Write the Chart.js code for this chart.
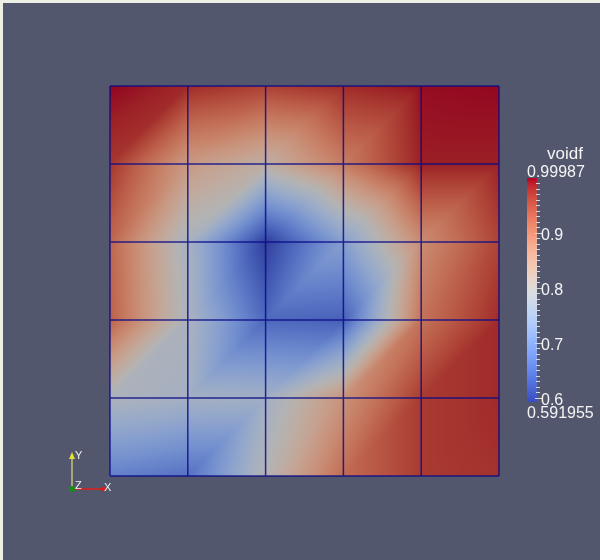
<!DOCTYPE html>
<html>
<head>
<meta charset="utf-8">
<script src="https://cdn.jsdelivr.net/npm/chart.js@4.4.1/dist/chart.umd.min.js"></script>
<style>
  html, body { margin: 0; padding: 0; background: #eef0e6; }
  #wrap { position: absolute; left: 0; top: 0; width: 600px; height: 560px; }
</style>
</head>
<body>
<div id="wrap"><canvas id="c" width="600" height="560"></canvas></div>
<script>
// Mesh node coordinates (5 x 5 quad cells, 6 x 6 nodes)
const xNodes = [0, 1, 2, 3, 4, 5];
const yNodes = [0, 1, 2, 3, 4, 5];

// voidf at the nodes, one row per y level, bottom row first
const voidfY0 = [0.674, 0.653, 0.796, 0.918, 0.967, 0.975];
const voidfY1 = [0.784, 0.770, 0.765, 0.869, 0.967, 0.980];
const voidfY2 = [0.931, 0.780, 0.641, 0.633, 0.910, 0.980];
const voidfY3 = [0.926, 0.776, 0.591955, 0.723, 0.878, 0.959];
const voidfY4 = [0.972, 0.857, 0.816, 0.898, 0.988, 0.988];
const voidfY5 = [0.99987, 0.982, 0.962, 0.980, 0.996, 0.998];

// Colour legend
const legendTitle = 'voidf';
const legendTicks = [0.6, 0.7, 0.8, 0.9];

const field = [voidfY0, voidfY1, voidfY2, voidfY3, voidfY4, voidfY5];
const allValues = field.flat();
const vMin = Math.min(...allValues);
const vMax = Math.max(...allValues);

// Cool-to-warm diverging colour map control points
const coolWarm = [
  [59,76,192],[68,90,204],[77,104,215],[87,117,225],[98,130,234],[108,142,241],
  [119,154,247],[130,165,251],[141,176,254],[152,185,255],[163,194,255],[174,201,253],
  [184,208,249],[194,213,244],[204,217,238],[213,219,230],[221,221,221],[229,216,209],
  [236,211,197],[241,204,185],[245,196,173],[247,187,160],[247,177,148],[247,166,135],
  [244,154,123],[241,141,111],[236,127,99],[229,112,88],[222,96,77],[213,80,66],
  [203,62,56],[192,40,47],[180,4,38]
];
function mapColor(v) {
  let t = (v - vMin) / (vMax - vMin);
  t = Math.max(0, Math.min(1, t));
  const f = t * (coolWarm.length - 1);
  const k = Math.min(coolWarm.length - 2, Math.floor(f));
  const a = f - k;
  const c0 = coolWarm[k], c1 = coolWarm[k + 1];
  return [c0[0] + (c1[0] - c0[0]) * a, c0[1] + (c1[1] - c0[1]) * a, c0[2] + (c1[2] - c0[2]) * a];
}

// Linear interpolation on the two triangles of each quad (split along BL-TR)
function fieldAt(xv, yv) {
  const nx = xNodes.length - 1, ny = yNodes.length - 1;
  let i = 0; while (i < nx - 1 && xv > xNodes[i + 1]) i++;
  let j = 0; while (j < ny - 1 && yv > yNodes[j + 1]) j++;
  const u = Math.max(0, Math.min(1, (xv - xNodes[i]) / (xNodes[i + 1] - xNodes[i])));
  const w = Math.max(0, Math.min(1, (yv - yNodes[j]) / (yNodes[j + 1] - yNodes[j])));
  const bl = field[j][i], br = field[j][i + 1], tl = field[j + 1][i], tr = field[j + 1][i + 1];
  if (w <= u) return bl * (1 - u) + br * (u - w) + tr * w;
  return bl * (1 - w) + tl * (w - u) + tr * u;
}

const SHADE = 0.81;     // surface lighting factor
const BG = '#52576e';

const meshPlugin = {
  id: 'meshPlugin',
  beforeDraw(chart) {
    const ctx = chart.ctx;
    ctx.save();
    ctx.fillStyle = BG;
    ctx.fillRect(3, 3, chart.width - 3, chart.height - 3);
    ctx.restore();
  },
  beforeDatasetsDraw(chart) {
    const ctx = chart.ctx;
    const xs = chart.scales.x, ys = chart.scales.y;
    const dpr = chart.currentDevicePixelRatio || 1;
    const x0 = Math.round(xs.getPixelForValue(xNodes[0]));
    const x1 = Math.round(xs.getPixelForValue(xNodes[xNodes.length - 1]));
    const y0 = Math.round(ys.getPixelForValue(yNodes[yNodes.length - 1]));
    const y1 = Math.round(ys.getPixelForValue(yNodes[0]));
    const w = (x1 - x0) * dpr, h = (y1 - y0) * dpr;
    const img = ctx.createImageData(w, h);
    const d = img.data;
    for (let py = 0; py < h; py++) {
      const yv = ys.getValueForPixel(y0 + (py + 0.5) / dpr);
      for (let px = 0; px < w; px++) {
        const xv = xs.getValueForPixel(x0 + (px + 0.5) / dpr);
        const c = mapColor(fieldAt(xv, yv));
        const o = (py * w + px) * 4;
        d[o] = c[0] * SHADE; d[o + 1] = c[1] * SHADE; d[o + 2] = c[2] * SHADE; d[o + 3] = 255;
      }
    }
    ctx.putImageData(img, x0 * dpr, y0 * dpr);

    // cell edges
    ctx.save();
    ctx.strokeStyle = 'rgba(12,12,135,0.85)';
    ctx.lineWidth = 1.5;
    ctx.beginPath();
    xNodes.forEach(xn => {
      const x = xs.getPixelForValue(xn);
      ctx.moveTo(x, ys.getPixelForValue(yNodes[0]));
      ctx.lineTo(x, ys.getPixelForValue(yNodes[yNodes.length - 1]));
    });
    yNodes.forEach(yn => {
      const y = ys.getPixelForValue(yn);
      ctx.moveTo(xs.getPixelForValue(xNodes[0]), y);
      ctx.lineTo(xs.getPixelForValue(xNodes[xNodes.length - 1]), y);
    });
    ctx.stroke();
    ctx.restore();
  },
  afterDraw(chart) {
    const ctx = chart.ctx;
    ctx.save();
    // colour legend bar
    const barL = 527, barR = 537, barT = 178, barB = 402;
    const yOf = v => barT + (vMax - v) / (vMax - vMin) * (barB - barT);
    for (let y = barT; y < barB; y++) {
      const v = vMax - (y + 0.5 - barT) / (barB - barT) * (vMax - vMin);
      const c = mapColor(v);
      ctx.fillStyle = `rgb(${c[0] | 0},${c[1] | 0},${c[2] | 0})`;
      ctx.fillRect(barL, y, barR - barL, 1);
    }
    // minor and major ticks
    ctx.strokeStyle = '#d6d8de';
    ctx.lineWidth = 1;
    ctx.beginPath();
    for (let k = 60; k <= 99; k++) {
      const v = k / 100;
      const y = Math.round(yOf(v)) + 0.5;
      const major = k % 10 === 0;
      ctx.moveTo(barR - (major ? 2 : 1), y);
      ctx.lineTo(barR + (major ? 5 : 3), y);
    }
    ctx.stroke();

    ctx.fillStyle = '#f4f4f4';
    ctx.textAlign = 'left';
    ctx.font = '17px "Liberation Sans", Arial, sans-serif';
    ctx.textBaseline = 'alphabetic';
    ctx.fillText(legendTitle, 547, 159);
    ctx.font = '16px "Liberation Sans", Arial, sans-serif';
    ctx.fillText(String(vMax), 527, 177);
    ctx.textBaseline = 'middle';
    legendTicks.forEach(v => ctx.fillText(v.toFixed(1), 541, yOf(v) + 3));
    ctx.textBaseline = 'alphabetic';
    ctx.fillText(String(vMin), 527, 418);

    // orientation axes
    const ox = 72, oy = 489;
    ctx.lineWidth = 2;
    ctx.strokeStyle = '#a7a87a';
    ctx.beginPath(); ctx.moveTo(ox, oy); ctx.lineTo(ox, 458); ctx.stroke();
    ctx.fillStyle = '#e2e030';
    ctx.beginPath(); ctx.moveTo(ox, 452); ctx.lineTo(ox - 3, 459); ctx.lineTo(ox + 3, 459); ctx.closePath(); ctx.fill();
    ctx.strokeStyle = '#c02a2a';
    ctx.beginPath(); ctx.moveTo(ox, oy); ctx.lineTo(102, oy); ctx.stroke();
    ctx.fillStyle = '#d81c1c';
    ctx.beginPath(); ctx.moveTo(108, oy); ctx.lineTo(101, oy - 3); ctx.lineTo(101, oy + 3); ctx.closePath(); ctx.fill();
    ctx.fillStyle = '#1a8a1a';
    ctx.beginPath(); ctx.arc(ox, oy, 3, 0, Math.PI * 2); ctx.fill();
    ctx.fillStyle = '#f0f0f0';
    ctx.font = '11px "Liberation Sans", Arial, sans-serif';
    ctx.textBaseline = 'middle';
    ctx.fillText('Y', 75, 456);
    ctx.fillText('Z', 75, 486);
    ctx.fillText('X', 104, 488);
    ctx.restore();
  }
};

const nodePoints = [];
yNodes.forEach((yn, j) => xNodes.forEach((xn, i) => nodePoints.push({ x: xn, y: yn, v: field[j][i] })));

new Chart(document.getElementById('c'), {
  type: 'scatter',
  data: { datasets: [{ label: legendTitle, data: nodePoints, pointRadius: 0, showLine: false }] },
  options: {
    responsive: false,
    animation: false,
    devicePixelRatio: 1,
    layout: { padding: { left: 110, right: 101, top: 86, bottom: 84 } },
    plugins: { legend: { display: false }, tooltip: { enabled: false } },
    scales: {
      x: { type: 'linear', min: xNodes[0], max: xNodes[xNodes.length - 1], display: false },
      y: { type: 'linear', min: yNodes[0], max: yNodes[yNodes.length - 1], display: false }
    }
  },
  plugins: [meshPlugin]
});
</script>
</body>
</html>
